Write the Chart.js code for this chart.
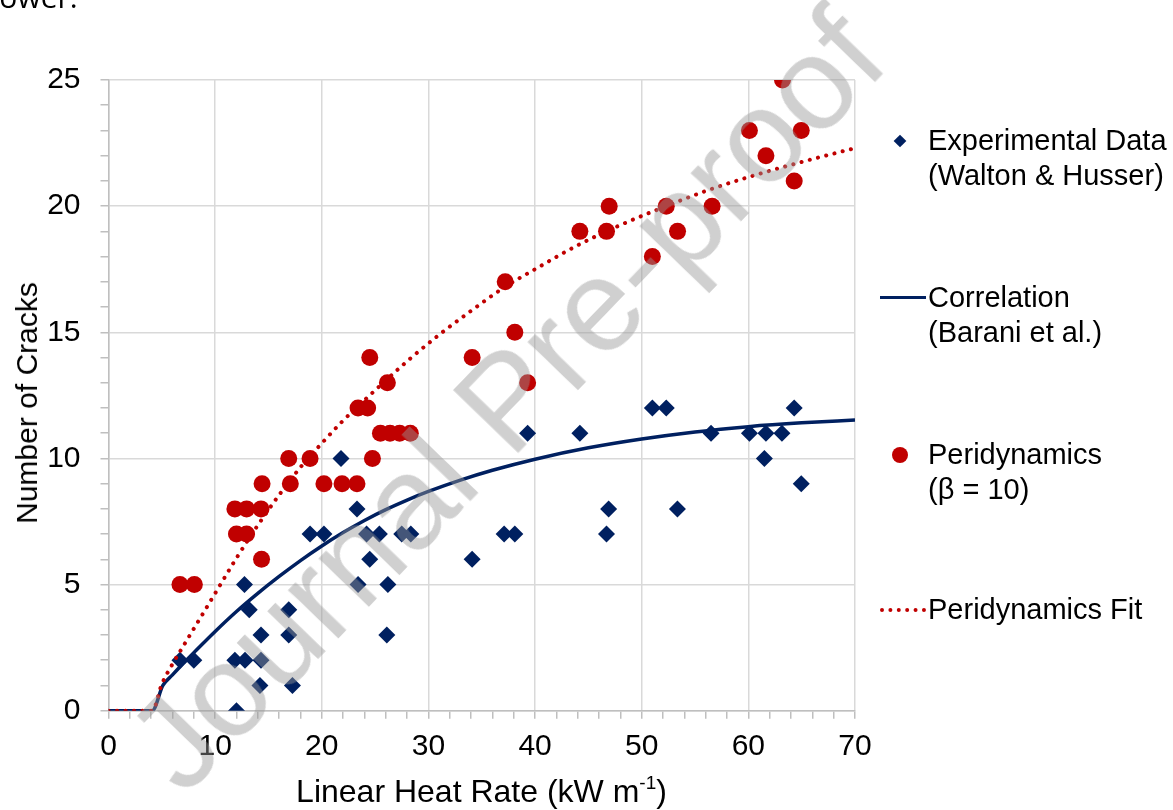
<!DOCTYPE html>
<html>
<head>
<meta charset="utf-8">
<script src="https://cdn.jsdelivr.net/npm/chart.js@4.4.1/dist/chart.umd.min.js"></script>
<style>
  html, body { margin: 0; padding: 0; background: #fff; }
  #wrap { position: relative; width: 1173px; height: 810px; overflow: hidden; font-family: "Liberation Sans", Arial, sans-serif; color: #000; }
  #c { position: absolute; left: 0; top: 0; }
  .txt { position: absolute; font-size: 29px; line-height: 35px; white-space: nowrap; }
  #power { position: absolute; left: -19px; top: -23px; font-family: "Open Sans", sans-serif; font-size: 30px; line-height: 40px; }
  #xtitle { position: absolute; left: 108px; width: 747px; top: 772px; text-align: center; font-size: 32px; line-height: 38px; white-space: nowrap; }
  #xtitle sup { font-size: 19px; vertical-align: 0; position: relative; top: -13px; }
  #ytitle { position: absolute; left: 27px; top: 403px; font-size: 30px; line-height: 36px; white-space: nowrap; transform: translate(-50%, -50%) rotate(-90deg); }
  .diam { position: absolute; width: 9px; height: 9px; background: #002060; transform: translate(-50%, -50%) rotate(45deg); }
  .dot { position: absolute; width: 16px; height: 16px; border-radius: 50%; background: #c00000; transform: translate(-50%, -50%); }
  .ln { position: absolute; height: 3px; background: #002060; }
  .dl { position: absolute; height: 0; border-top: 4px dotted #c00000; }
  #wm { position: absolute; left: 506px; top: 400px; font-size: 132px; line-height: 132px; white-space: nowrap; color: rgba(150,150,150,0.45); transform: translate(-50%, -50%) rotate(-46deg); pointer-events: none; font-family: "Liberation Sans", Arial, sans-serif; }
</style>
</head>
<body>
<div id="wrap">
  <canvas id="c" width="1173" height="810"></canvas>
  <div id="power">power.</div>
  <div id="xtitle">Linear Heat Rate (kW m<sup>-1</sup>)</div>
  <div id="ytitle">Number of Cracks</div>

  <div class="diam" style="left:900px; top:141px;"></div>
  <div class="txt" style="left:928px; top:123px;">Experimental Data<br>(Walton &amp; Husser)</div>

  <div class="ln" style="left:880px; top:296px; width:46px;"></div>
  <div class="txt" style="left:928px; top:280px;">Correlation<br>(Barani et al.)</div>

  <div class="dot" style="left:900px; top:455px;"></div>
  <div class="txt" style="left:928px; top:437px;">Peridynamics<br>(β = 10)</div>

  <div class="dl" style="left:880px; top:608px; width:46px;"></div>
  <div class="txt" style="left:928px; top:592px;">Peridynamics Fit</div>

  <div id="wm">Journal Pre-proof</div>
</div>
<script>
// ---- Data ----
const expX = [6.7, 8.0, 11.85, 12.8, 14.3, 12.0, 14.2, 17.25, 14.3, 16.9, 13.2, 16.9, 12.75, 23.4, 26.2, 26.1, 24.5, 34.1, 18.9, 20.2, 24.2, 25.4, 27.5, 28.35, 37.1, 38.1, 46.7, 23.3, 46.9, 53.35, 21.8, 39.3, 44.2, 56.5, 60.1, 61.65, 63.15, 51.0, 52.3, 64.3, 61.5, 64.96];
const expY = [2, 2, 2, 2, 2, 0, 1, 1, 3, 3, 4, 4, 5, 5, 5, 3, 6, 6, 7, 7, 7, 7, 7, 7, 7, 7, 7, 8, 8, 8, 10, 11, 11, 11, 11, 11, 11, 12, 12, 12, 10, 9];

const periX = [6.7, 8.05, 11.85, 12.95, 14.3, 12.0, 12.95, 14.35, 14.4, 17.05, 20.2, 21.9, 23.3, 16.9, 18.9, 24.75, 25.5, 26.4, 27.3, 28.3, 23.4, 24.3, 26.15, 24.5, 34.1, 39.3, 38.1, 37.2, 44.2, 46.7, 46.95, 51.0, 52.3, 53.36, 56.6, 60.1, 61.65, 63.2, 64.96, 64.3];
const periY = [5, 5, 8, 8, 8, 7, 7, 6, 9, 9, 9, 9, 9, 10, 10, 10, 11, 11, 11, 11, 12, 12, 13, 14, 14, 13, 15, 17, 19, 19, 20, 18, 20, 19, 20, 23, 22, 25, 23, 21];

const corrX = [0, 4.1, 5.1, 6, 7, 8, 10, 12, 14, 16, 18, 20, 22, 24, 26, 28, 30, 33, 36, 40, 45, 50, 55, 60, 65, 70];
const corrY = [0, 0, 1.0, 1.42, 1.87, 2.3, 3.14, 3.93, 4.65, 5.32, 5.95, 6.53, 7.06, 7.54, 7.97, 8.35, 8.69, 9.14, 9.53, 9.97, 10.42, 10.77, 11.05, 11.26, 11.41, 11.52];

const fitX = [0, 4.1, 5, 6, 7, 8, 10, 12, 14, 16, 18, 20, 22, 25, 28, 31, 34, 37, 40, 44, 48, 52, 56, 60, 65, 70];
const fitY = [0, 0, 1.05, 1.85, 2.55, 3.25, 4.65, 6.05, 7.35, 8.55, 9.65, 10.6, 11.5, 12.7, 13.85, 14.9, 15.85, 16.75, 17.5, 18.45, 19.25, 19.95, 20.6, 21.15, 21.75, 22.3];

const xTicks = [0, 10, 20, 30, 40, 50, 60, 70];
const yTicks = [0, 5, 10, 15, 20, 25];

const pts = (xs, ys) => xs.map((x, i) => ({ x: x, y: ys[i] }));

const NAVY = '#002060';
const RED = '#c00000';
const FONT = "'Liberation Sans', Arial, sans-serif";

new Chart(document.getElementById('c'), {
  type: 'scatter',
  data: {
    datasets: [
      { label: 'Peridynamics Fit', data: pts(fitX, fitY), showLine: true, borderColor: RED, borderWidth: 4,
        borderDash: [0.1, 8.4], borderCapStyle: 'round', pointRadius: 0, cubicInterpolationMode: 'monotone', order: 1 },
      { label: 'Peridynamics', data: pts(periX, periY), pointStyle: 'circle', pointRadius: 8.5, pointBackgroundColor: RED,
        pointBorderWidth: 0, showLine: false, order: 2 },
      { label: 'Correlation', data: pts(corrX, corrY), showLine: true, borderColor: NAVY, borderWidth: 3.5,
        pointRadius: 0, cubicInterpolationMode: 'monotone', order: 3 },
      { label: 'Experimental Data', data: pts(expX, expY), pointStyle: 'rectRot', pointRadius: 8.5, pointBackgroundColor: NAVY,
        pointBorderWidth: 0, showLine: false, order: 4 }
    ]
  },
  options: {
    responsive: false,
    animation: false,
    devicePixelRatio: 1,
    layout: { padding: { top: 80, right: 318, left: 0, bottom: 0 } },
    plugins: { legend: { display: false }, tooltip: { enabled: false } },
    scales: {
      x: {
        type: 'linear', min: 0, max: 70,
        border: { color: '#bfbfbf', width: 1.5 },
        grid: {
          color: c => (xTicks.includes(c.tick.value) ? '#d9d9d9' : 'rgba(0,0,0,0)'),
          tickColor: '#bfbfbf', tickLength: 8, lineWidth: 1.5
        },
        ticks: {
          stepSize: 2, autoSkip: false, maxRotation: 0, padding: 10,
          color: '#000', font: { family: FONT, size: 30 },
          callback: v => (xTicks.includes(v) ? String(v) : '')
        },
        afterFit: s => { s.height = 810 - 710.7; s.paddingLeft = 0; s.paddingRight = 0; }
      },
      y: {
        type: 'linear', min: 0, max: 25,
        border: { color: '#bfbfbf', width: 1.5 },
        grid: {
          color: c => (yTicks.includes(c.tick.value) ? '#d9d9d9' : 'rgba(0,0,0,0)'),
          tickColor: '#bfbfbf', tickLength: 8, lineWidth: 1.5
        },
        ticks: {
          stepSize: 1, autoSkip: false, padding: 20,
          color: '#000', font: { family: FONT, size: 30 },
          callback: v => (yTicks.includes(v) ? String(v) : '')
        },
        afterFit: s => { s.width = 108.5; s.paddingTop = 0; s.paddingBottom = 0; }
      }
    }
  }
});
</script>
</body>
</html>
